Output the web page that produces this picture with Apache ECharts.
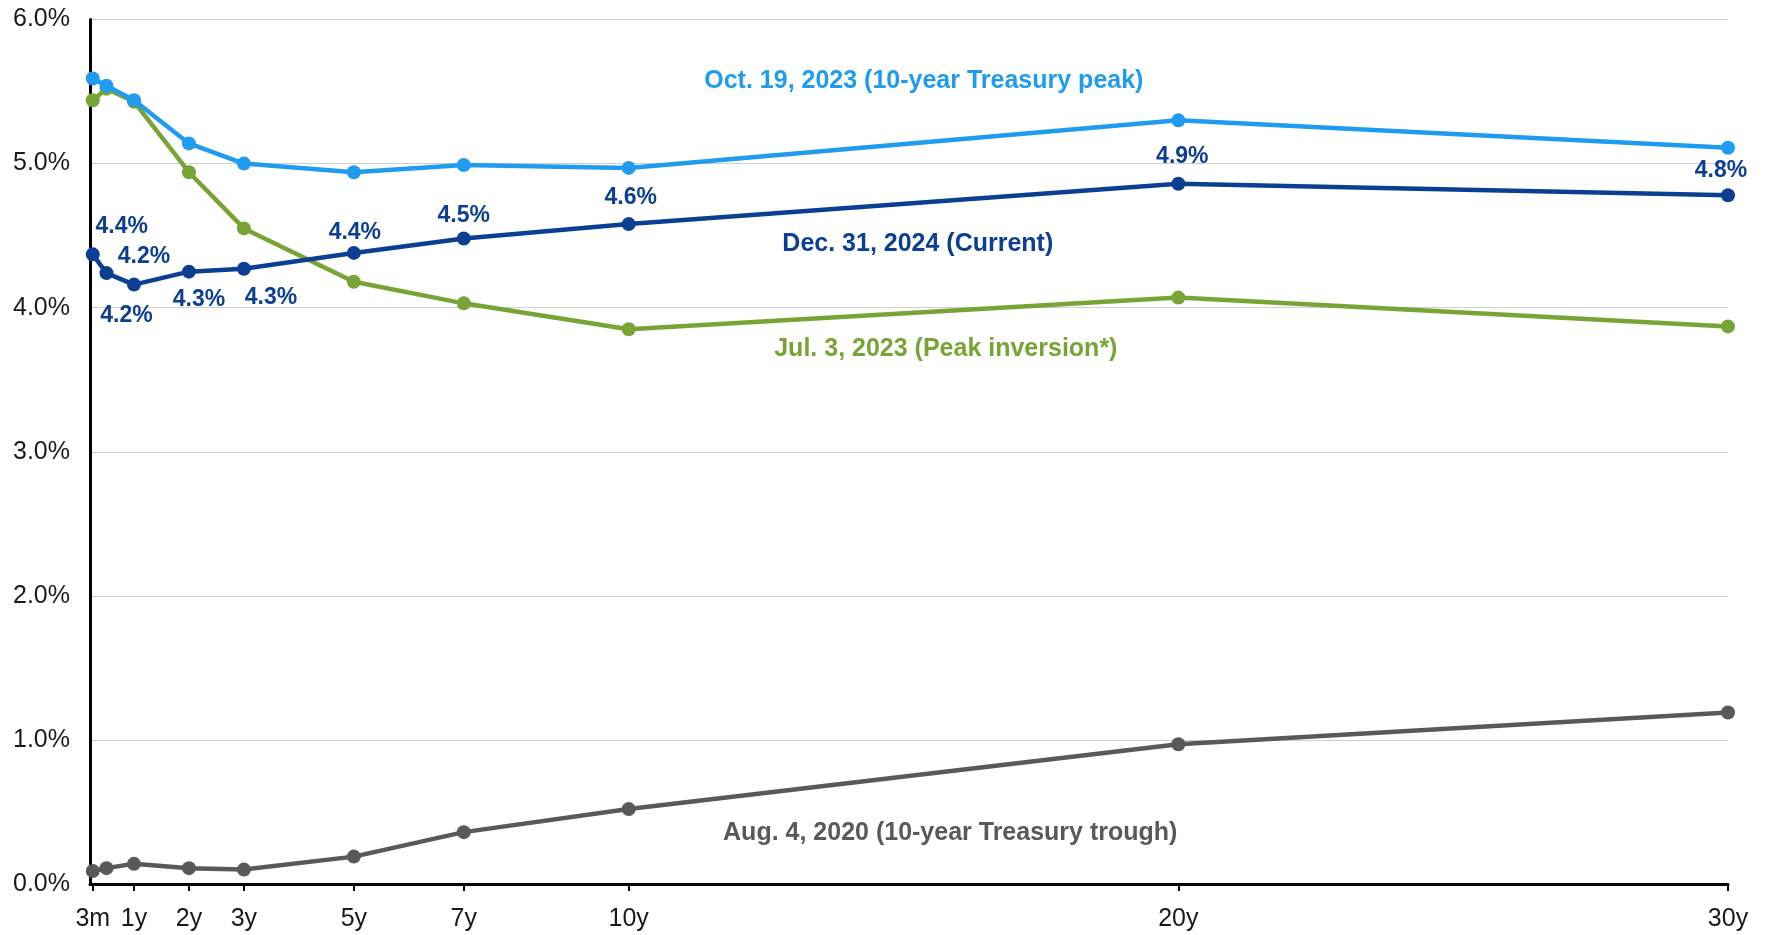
<!DOCTYPE html>
<html>
<head>
<meta charset="utf-8">
<title>Treasury yield curves</title>
<script src="https://cdn.jsdelivr.net/npm/echarts@6/dist/echarts.min.js"></script>
<style>
  html, body { margin: 0; padding: 0; background: #fff; }
  #chart { width: 1765px; height: 935px; }
</style>
</head>
<body>
<div id="chart"></div>
<script>
// maturity in years, one entry per point on each curve
const maturities = [0.25, 0.5, 1, 2, 3, 5, 7, 10, 20, 30]
const tickValues = [0.25, 1, 2, 3, 5, 7, 10, 20, 30]
const tickLabels = ['3m', '1y', '2y', '3y', '5y', '7y', '10y', '20y', '30y']
const yTicks = [0, 1, 2, 3, 4, 5, 6]

// yields in %
const oct2023 = [5.59, 5.54, 5.44, 5.14, 5.00, 4.94, 4.99, 4.97, 5.30, 5.11]
const jul2023 = [5.44, 5.52, 5.43, 4.94, 4.55, 4.18, 4.03, 3.85, 4.07, 3.87]
const dec2024 = [4.37, 4.24, 4.16, 4.25, 4.27, 4.38, 4.48, 4.58, 4.86, 4.78]
const aug2020 = [0.09, 0.11, 0.14, 0.11, 0.10, 0.19, 0.36, 0.52, 0.97, 1.19]

const seriesNames = [
  'Oct. 19, 2023 (10-year Treasury peak)',
  'Jul. 3, 2023 (Peak inversion*)',
  'Dec. 31, 2024 (Current)',
  'Aug. 4, 2020 (10-year Treasury trough)'
]

// where the value labels of the current curve sit around their points
const dec2024LabelOffsets = [[29, -28], [20, 43], [10, -28], [10, 28], [27, 29], [1, -20], [0, -23], [2, -26], [4, -27], [-7, -25]]

const FONT = '"Liberation Sans", Arial, sans-serif'
const NARROW = '"Liberation Sans Narrow", "Arial Narrow", "Liberation Sans", sans-serif'

const chart = echarts.init(document.getElementById('chart'))

const curve = (name, values, color, z, note) => ({
  name,
  type: 'line',
  z,
  data: maturities.map((m, i) => [m, values[i]]),
  symbol: 'circle',
  symbolSize: 14,
  lineStyle: { width: 4.5, color },
  itemStyle: { color },
  markPoint: {
    symbol: 'circle',
    symbolSize: 0,
    silent: true,
    data: [{
      coord: note.at,
      label: {
        show: true,
        position: 'inside',
        formatter: name,
        color,
        fontWeight: 'bold',
        fontSize: note.size,
        fontFamily: note.font || FONT
      }
    }]
  }
})

const current = curve(seriesNames[2], dec2024, '#0c3f93', 4, { at: [15.26, 4.44], size: 25 })
current.data = current.data.map((d, i) => ({
  value: d,
  label: {
    show: true,
    position: 'inside',
    offset: dec2024LabelOffsets[i],
    formatter: p => p.value[1].toFixed(1) + '%',
    color: '#0c3f93',
    fontWeight: 'bold',
    fontSize: 23,
    fontFamily: FONT
  }
}))

const option = {
  animation: false,
  backgroundColor: '#ffffff',
  grid: { left: 90, right: 37, top: 19.5, bottom: 51, containLabel: false },
  xAxis: {
    type: 'value',
    min: 0.2,
    max: 30,
    splitLine: { show: false },
    axisLine: { show: true, onZero: false, lineStyle: { color: '#000', width: 3 } },
    axisTick: { show: true, customValues: tickValues, length: 7, lineStyle: { color: '#000', width: 2 } },
    axisLabel: {
      customValues: tickValues,
      formatter: v => tickLabels[tickValues.indexOf(v)],
      margin: 23,
      color: '#1a1a1a',
      fontSize: 25,
      fontFamily: NARROW
    }
  },
  yAxis: {
    type: 'value',
    min: yTicks[0],
    max: yTicks[yTicks.length - 1],
    interval: 1,
    axisLine: { show: true, lineStyle: { color: '#000', width: 3 } },
    axisTick: { show: false },
    splitLine: { show: true, lineStyle: { color: '#cfcfcf', width: 1 } },
    axisLabel: {
      formatter: v => v.toFixed(1) + '%',
      margin: 20,
      color: '#1a1a1a',
      fontSize: 25,
      fontFamily: FONT
    }
  },
  series: [
    curve(seriesNames[3], aug2020, '#595959', 2, { at: [15.85, 0.354], size: 25, font: NARROW }),
    curve(seriesNames[1], jul2023, '#78a436', 3, { at: [15.77, 3.71], size: 25 }),
    current,
    curve(seriesNames[0], oct2023, '#1f9bf0', 5, { at: [15.37, 5.57], size: 25 })
  ]
}

chart.setOption(option)
</script>
</body>
</html>
